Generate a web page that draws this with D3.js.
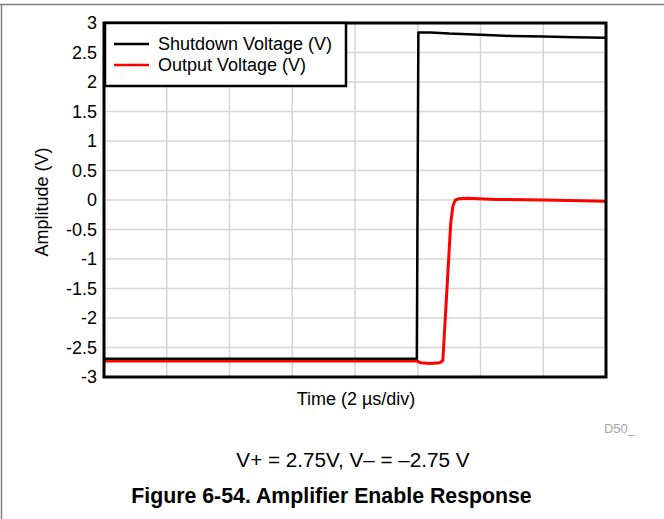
<!DOCTYPE html>
<html>
<head>
<meta charset="utf-8">
<script src="https://cdn.jsdelivr.net/npm/d3@7"></script>
<style>
  body { margin: 0; background: #fff; }
  svg { display: block; font-family: "Liberation Sans", Arial, sans-serif; }
</style>
</head>
<body>
<div id="chart-area"></div>
<script>
// time in us, voltages in V
var shutdownT = [0, 9.97, 10.02, 10.4, 11, 12, 13, 14, 15, 16];
var shutdownV = [-2.69, -2.69, 2.84, 2.84, 2.82, 2.80, 2.78, 2.77, 2.76, 2.75];

var outputT = [0, 9.98, 10.1, 10.4, 10.7, 10.8, 11.05, 11.12, 11.2, 11.3, 11.6, 12.5, 14, 16];
var outputV = [-2.73, -2.73, -2.76, -2.77, -2.76, -2.72, -0.4, -0.1, 0.0, 0.02, 0.03, 0.01, 0.0, -0.02];

var yTicks = [3, 2.5, 2, 1.5, 1, 0.5, 0, -0.5, -1, -1.5, -2, -2.5, -3];
var xTicks = [0, 2, 4, 6, 8, 10, 12, 14, 16];

var seriesNames = ["Shutdown Voltage (V)", "Output Voltage (V)"];
var seriesColors = ["#000000", "#ff0000"];

var width = 664,
    height = 519;

var svg = d3.select("#chart-area")
    .append("svg")
    .attr("width", width)
    .attr("height", height);

// page frame (top and left rules)
svg.append("line").attr("x1", 0).attr("x2", width).attr("y1", 4.5).attr("y2", 4.5)
    .attr("stroke", "#808080").attr("stroke-width", 1.5);
svg.append("line").attr("x1", 1.5).attr("x2", 1.5).attr("y1", 4).attr("y2", height)
    .attr("stroke", "#808080").attr("stroke-width", 1.5);

var x = d3.scaleLinear().domain([0, 16]).range([104, 606]);
var y = d3.scaleLinear().domain([-3, 3]).range([377, 23]);

// grid
var grid = svg.append("g");
grid.selectAll(".hgrid").data(yTicks).enter().append("line")
    .attr("x1", x(0)).attr("x2", x(16))
    .attr("y1", function(d) { return y(d); })
    .attr("y2", function(d) { return y(d); })
    .attr("stroke", "#d6d6d6").attr("stroke-width", 1.5);
grid.selectAll(".vgrid").data(xTicks).enter().append("line")
    .attr("y1", y(-3)).attr("y2", y(3))
    .attr("x1", function(d) { return x(d); })
    .attr("x2", function(d) { return x(d); })
    .attr("stroke", "#d6d6d6").attr("stroke-width", 1.5);

// y tick labels
svg.append("g").selectAll("text").data(yTicks).enter().append("text")
    .attr("x", 97)
    .attr("y", function(d) { return y(d); })
    .attr("dy", "0.36em")
    .attr("text-anchor", "end")
    .style("font-size", "18px")
    .text(function(d) { return String(d); });

var line = d3.line()
    .x(function(d) { return x(d[0]); })
    .y(function(d) { return y(d[1]); });

var shutdown = d3.zip(shutdownT, shutdownV);
var output = d3.zip(outputT, outputV);

svg.append("path")
    .datum(output)
    .attr("d", line)
    .attr("fill", "none")
    .attr("stroke", seriesColors[1])
    .attr("stroke-width", 3)
    .attr("stroke-linejoin", "round");

svg.append("path")
    .datum(shutdown)
    .attr("d", line)
    .attr("fill", "none")
    .attr("stroke", seriesColors[0])
    .attr("stroke-width", 2.5)
    .attr("stroke-linejoin", "round");

// plot frame
svg.append("rect")
    .attr("x", x(0)).attr("y", y(3))
    .attr("width", x(16) - x(0)).attr("height", y(-3) - y(3))
    .attr("fill", "none").attr("stroke", "#000").attr("stroke-width", 3);

// legend
var legend = svg.append("g");
legend.append("rect")
    .attr("x", 105).attr("y", 23).attr("width", 241).attr("height", 63)
    .attr("fill", "#fff").attr("stroke", "#000").attr("stroke-width", 2.5);
var item = legend.selectAll(".item").data(seriesNames).enter().append("g")
    .attr("transform", function(d, i) { return "translate(0," + (44 + i * 21) + ")"; });
item.append("line")
    .attr("x1", 114).attr("x2", 149)
    .attr("stroke", function(d, i) { return seriesColors[i]; })
    .attr("stroke-width", 2.5);
item.append("text")
    .attr("x", 158).attr("dy", "0.36em")
    .style("font-size", "18px")
    .text(function(d) { return d; });

// axis titles
svg.append("text")
    .attr("x", 356).attr("y", 405)
    .attr("text-anchor", "middle")
    .style("font-size", "18px")
    .text("Time (2 \u00b5s/div)");

svg.append("text")
    .attr("transform", "translate(48,202)rotate(-90)")
    .attr("text-anchor", "middle")
    .style("font-size", "18px")
    .text("Amplitude (V)");

svg.append("text")
    .attr("x", 635).attr("y", 433)
    .attr("text-anchor", "end")
    .attr("fill", "#a6a6a6")
    .style("font-size", "13px")
    .text("D50_");

svg.append("text")
    .attr("x", 353).attr("y", 467)
    .attr("text-anchor", "middle")
    .style("font-size", "20.7px")
    .text("V+ = 2.75V, V\u2013 = \u20132.75 V");

svg.append("text")
    .attr("x", 331.5).attr("y", 503)
    .attr("text-anchor", "middle")
    .style("font-size", "21.3px")
    .style("font-weight", "bold")
    .text("Figure 6-54. Amplifier Enable Response");
</script>
</body>
</html>
